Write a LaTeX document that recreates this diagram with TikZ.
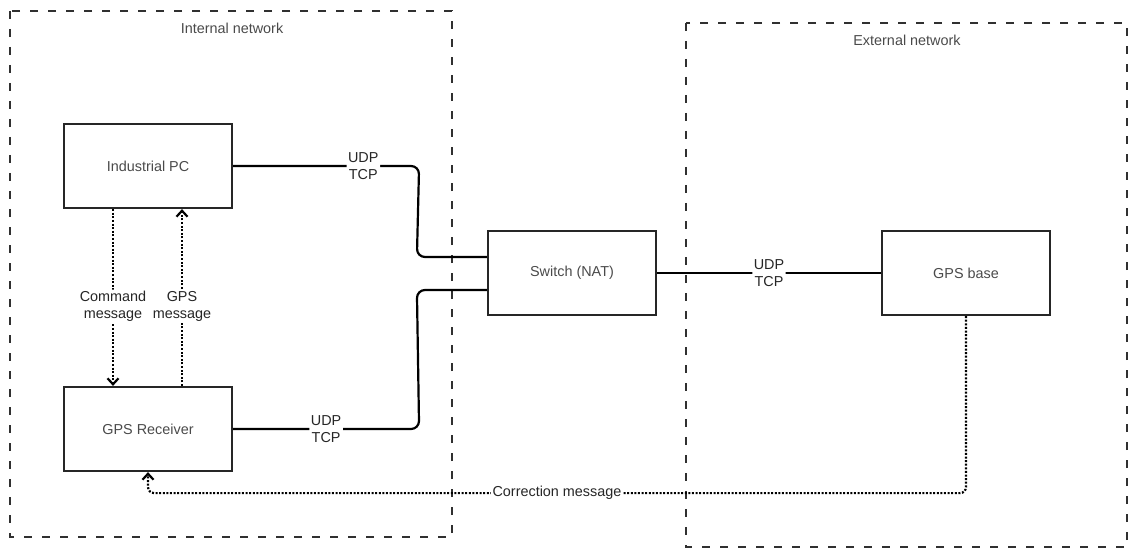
\documentclass[tikz,border=0pt]{standalone}
\usepackage{fontspec}
\setmainfont{Liberation Sans}
\usetikzlibrary{arrows.meta,calc}
\definecolor{boxline}{HTML}{262626}
\definecolor{zoneline}{HTML}{303030}
\definecolor{txt}{HTML}{4A4A4A}
\definecolor{tagtxt}{HTML}{262626}
\newcommand{\lblfont}{\fontsize{14.4}{17}\selectfont}
\begin{document}
\begin{tikzpicture}[x=1pt,y=-1pt,
  box/.style={draw=boxline, line width=2.2pt, minimum width=168pt, minimum height=84pt,
    inner sep=0pt, text=txt, font=\lblfont},
  zone/.style={draw=zoneline, line width=2.2pt, dash pattern=on 8pt off 10pt},
  zonetitle/.style={text=txt, font=\lblfont, inner sep=0pt},
  link/.style={draw=black, line width=2.2pt, rounded corners=8pt},
  msg/.style={draw=black, line width=2.2pt, dash pattern=on 2pt off 1.6pt, rounded corners=6pt,
    -{Straight Barb[length=6pt,width=11pt]}},
  tag/.style={fill=white, inner sep=1.5pt, align=center, text=tagtxt, font=\lblfont}]
  \useasboundingbox (0,0) rectangle (1129,548);

  % network zones
  \draw[zone] (10,11) rectangle (452,537);
  \draw[zone] (686,23) rectangle (1127,547);
  \node[zonetitle] (inttitle) at (232,28) {Internal network};
  \node[zonetitle] (exttitle) at (907,40) {External network};

  % devices
  \node[box] (pc)   at (148,166) {Industrial PC};
  \node[box] (rx)   at (148,429) {GPS Receiver};
  \node[box] (sw)   at (572,273) {Switch (NAT)};
  \node[box] (base) at (966,273) {GPS base};

  % wired links
  \draw[link] (pc.east) -- node[tag,pos=0.7]{UDP\\TCP} ($(pc.east)+(186,0)$)
    -- ($(sw.west)+(-70,-16)$) -- ($(sw.west)+(0,-16)$);
  \draw[link] (rx.east) -- node[tag,pos=0.5]{UDP\\TCP} ($(rx.east)+(186,0)$)
    -- ($(sw.west)+(-70,17)$) -- ($(sw.west)+(0,17)$);
  \draw[link] (sw.east) -- node[tag]{UDP\\TCP} (base.west);

  % message flows
  \draw[msg] ($(pc.south)+(-35,0)$) -- node[tag,pos=0.55]{Command\\message} ($(rx.north)+(-35,0)$);
  \draw[msg] ($(rx.north)+(34,0)$) -- node[tag,pos=0.45]{GPS\\message} ($(pc.south)+(34,0)$);
  \draw[msg] (base.south) -- ($(base.south)+(0,177)$)
    -- node[tag]{Correction message} ($(rx.south)+(0,21)$) -- (rx.south);
\end{tikzpicture}
\end{document}
